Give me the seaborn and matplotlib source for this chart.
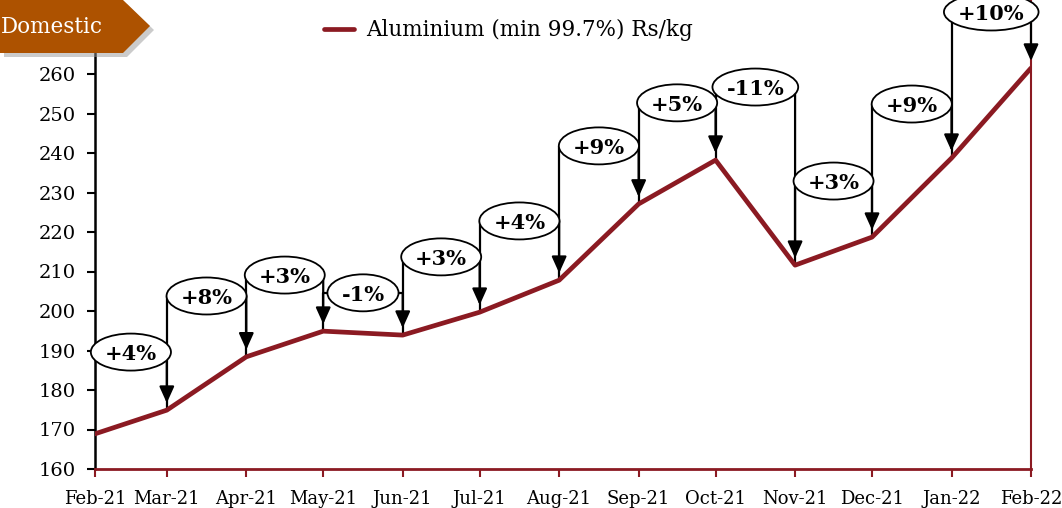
import pandas as pd
import seaborn as sns
import matplotlib.pyplot as plt
import matplotlib.dates as mdates
from matplotlib.patches import Polygon, Ellipse
from matplotlib.transforms import IdentityTransform

# Data
months = pd.date_range('2021-02-01', periods=13, freq='MS')
month_labels = ['Feb-21', 'Mar-21', 'Apr-21', 'May-21', 'Jun-21', 'Jul-21', 'Aug-21',
                'Sep-21', 'Oct-21', 'Nov-21', 'Dec-21', 'Jan-22', 'Feb-22']
price = [168.9, 174.9, 188.4, 194.9, 193.9, 199.7, 207.8,
         227.1, 238.2, 211.6, 218.7, 238.7, 261.5]
change_labels = ['+4%', '+8%', '+3%', '-1%', '+3%', '+4%',
                 '+9%', '+5%', '-11%', '+3%', '+9%', '+10%']
label_levels = [189.6, 203.8, 209.1, 204.6, 213.7, 222.8,
                241.8, 252.7, 256.7, 232.9, 252.4, 275.7]
ytick_values = list(range(160, 261, 10))

sns.set_style('white')
plt.rcParams['font.family'] = ['DejaVu Serif']
plt.rcParams['text.color'] = 'black'
plt.rcParams['xtick.labelcolor'] = 'black'
plt.rcParams['ytick.labelcolor'] = 'black'

W, H = 1062, 508
fig = plt.figure(figsize=(W / 100, H / 100), dpi=100)
ax = fig.add_axes([95 / W, 39 / H, 936 / W, 474 / H])

line_color = '#8B1A22'
df = pd.DataFrame({'month': months, 'price': price})
sns.lineplot(data=df, x='month', y='price', color=line_color, linewidth=3.4,
             ax=ax, label='Aluminium (min 99.7%) Rs/kg', zorder=4)

ax.set_xlim(months[0], months[-1])
ax.set_ylim(160, 280)

# step arrows with % change labels
label_texts = []
for i in range(len(price) - 1):
    x0, x1 = months[i], months[i + 1]
    y0, y1 = price[i], price[i + 1]
    lvl = label_levels[i]
    ax.plot([x0, x0, x1], [y0, lvl, lvl], color='black', lw=1.6, zorder=3,
            solid_capstyle='butt')
    ax.annotate('', xy=(x1, y1 + 1.8), xytext=(x1, lvl),
                arrowprops=dict(arrowstyle='-|>,head_width=0.45,head_length=1.0',
                                color='black', lw=1.6, shrinkA=0, shrinkB=0),
                zorder=3, annotation_clip=False)
    mid = x0 + (x1 - x0) / 2
    t = ax.text(mid, lvl - 0.5, change_labels[i], ha='center', va='center',
                fontsize=15, fontweight='bold', zorder=6, clip_on=False)
    label_texts.append((t, mid, lvl))

ax.set_xticks(months)
ax.set_xticklabels(month_labels)
ax.set_yticks(ytick_values)
ax.set_xlabel('')
ax.set_ylabel('')

ax.tick_params(axis='x', bottom=True, direction='out', length=6, width=1.5,
               color=line_color, labelcolor='black', labelsize=13, pad=9)
ax.tick_params(axis='y', left=True, direction='out', length=6, width=1.5,
               color='black', labelsize=14, pad=8)

ax.spines['top'].set_visible(False)
ax.spines['left'].set_color('black')
ax.spines['left'].set_linewidth(1.8)
ax.spines['bottom'].set_color(line_color)
ax.spines['bottom'].set_linewidth(2)
ax.spines['right'].set_color(line_color)
ax.spines['right'].set_linewidth(1.5)

leg = ax.legend(loc='center left', bbox_to_anchor=(313 / W, 1 - 30 / H),
                bbox_transform=fig.transFigure, frameon=False, fontsize=15.5,
                handlelength=1.4, handletextpad=0.55, borderpad=0)
for txt in leg.get_texts():
    txt.set_color('black')

# ellipses sized around each label
fig.canvas.draw()
renderer = fig.canvas.get_renderer()
for t, mid, lvl in label_texts:
    bb = t.get_window_extent(renderer)
    cx, cy = ax.transData.transform((mdates.date2num(mid), lvl))
    e = Ellipse((cx, cy), bb.width + 28, 37, transform=IdentityTransform(),
                fc='white', ec='black', lw=1.3, zorder=5)
    ax.add_artist(e)
    e.set_clip_on(False)

# "Domestic" banner
pts = [(0, 0), (123, 0), (150, 26), (123, 53), (0, 53)]
shadow = Polygon([((x + 4) / W, 1 - (y + 4) / H) for x, y in pts],
                 closed=True, transform=fig.transFigure, fc='#999999', ec='none',
                 alpha=0.5, zorder=9)
banner = Polygon([(x / W, 1 - y / H) for x, y in pts], closed=True,
                 transform=fig.transFigure, fc='#AD5200', ec='none', zorder=10)
fig.patches.extend([shadow, banner])
fig.text(52 / W, 1 - 27 / H, 'Domestic', color='white', fontsize=15.5,
         ha='center', va='center', zorder=11)

fig.savefig('out.png', dpi=100)
plt.close(fig)
